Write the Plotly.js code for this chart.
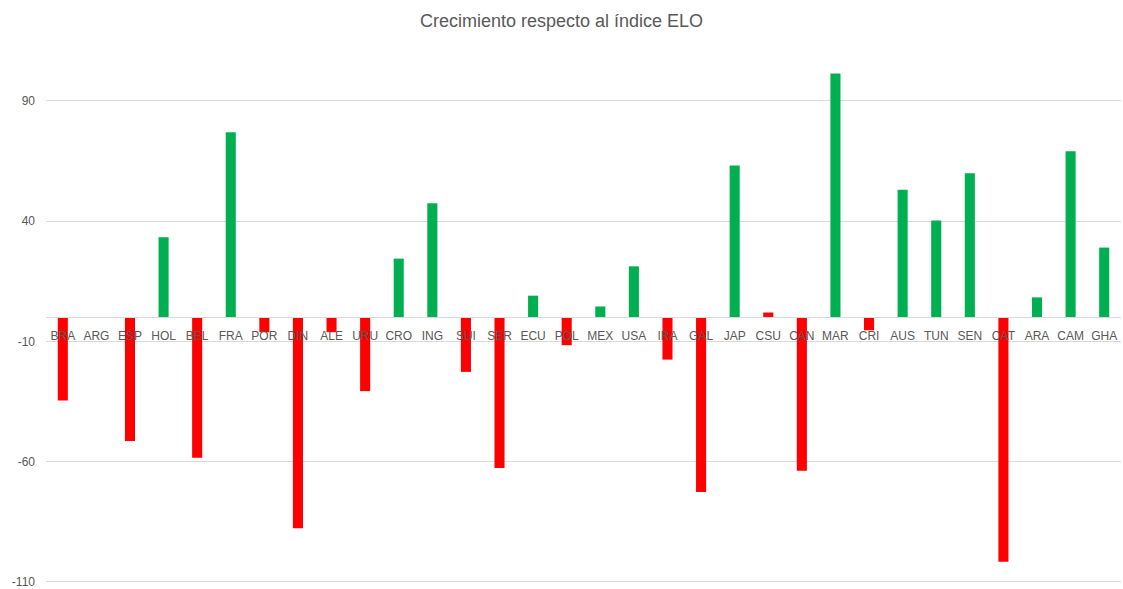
<!DOCTYPE html>
<html>
<head>
<meta charset="utf-8">
<script src="https://cdn.plot.ly/plotly-3.0.1.min.js"></script>
<style>
  html, body { margin: 0; padding: 0; background: #ffffff; }
  #chart { width: 1123px; height: 589px; }
</style>
</head>
<body>
<div id="chart"></div>
<script>
const categories = ["BRA","ARG","ESP","HOL","BEL","FRA","POR","DIN","ALE","URU","CRO","ING","SUI","SER","ECU","POL","MEX","USA","IRA","GAL","JAP","CSU","CAN","MAR","CRI","AUS","TUN","SEN","CAT","ARA","CAM","GHA"];
const growth = [-34.6, 0, -51.4, 33.3, -58.4, 77.0, -6.2, -87.7, -6.2, -30.7, 24.4, 47.4, -22.7, -62.7, 9.0, -11.6, 4.5, 21.2, -17.6, -72.7, 63.1, 2.0, -63.8, 101.4, -5.4, 53.0, 40.3, 59.9, -101.7, 8.3, 69.1, 29.0];
// categories whose bar is drawn red in the original (CSU is red despite being slightly positive)
const redCategories = ["BRA","ARG","ESP","BEL","POR","DIN","ALE","URU","SUI","SER","POL","IRA","GAL","CSU","CAN","CRI","CAT"];
const yTicks = [-110, -60, -10, 40, 90];

const GREEN = "#00B050", RED = "#FF0000", TXT = "#595959", GRID = "#D9D9D9";
const yRange = [-110.5, 112];

const colors = categories.map(c => redCategories.includes(c) ? RED : GREEN);

const trace = {
  type: "bar",
  x: categories,
  y: growth,
  marker: { color: colors, line: { width: 0 } },
  hoverinfo: "x+y"
};

const layout = {
  width: 1123, height: 589,
  margin: { l: 46, r: 2, t: 48, b: 6, pad: 0 },
  paper_bgcolor: "#ffffff",
  plot_bgcolor: "#ffffff",
  font: { family: "Liberation Sans, Arial, sans-serif", color: TXT, size: 12 },
  title: {
    text: "Crecimiento respecto al índice ELO",
    font: { size: 18, color: TXT, family: "Liberation Sans, Arial, sans-serif" },
    x: 0.5, xanchor: "center",
    y: 0.965, yanchor: "middle"
  },
  bargap: 0.70,
  showlegend: false,
  xaxis: {
    type: "category",
    anchor: "free",
    position: (0 - yRange[0]) / (yRange[1] - yRange[0]),
    showline: true, linecolor: GRID, linewidth: 1,
    showgrid: false, zeroline: false,
    ticks: "", tickfont: { size: 12, color: TXT },
    ticklabelstandoff: 7,
    layer: "above traces",
    fixedrange: true
  },
  yaxis: {
    range: yRange,
    tickvals: yTicks,
    ticktext: yTicks.map(String),
    showgrid: true, gridcolor: GRID, gridwidth: 1,
    zeroline: false, showline: false,
    ticks: "", tickfont: { size: 12, color: TXT },
    ticklabelstandoff: 10,
    ticklabeloverflow: "allow",
    fixedrange: true
  }
};

Plotly.newPlot("chart", [trace], layout, { displayModeBar: false, staticPlot: true });
</script>
</body>
</html>
